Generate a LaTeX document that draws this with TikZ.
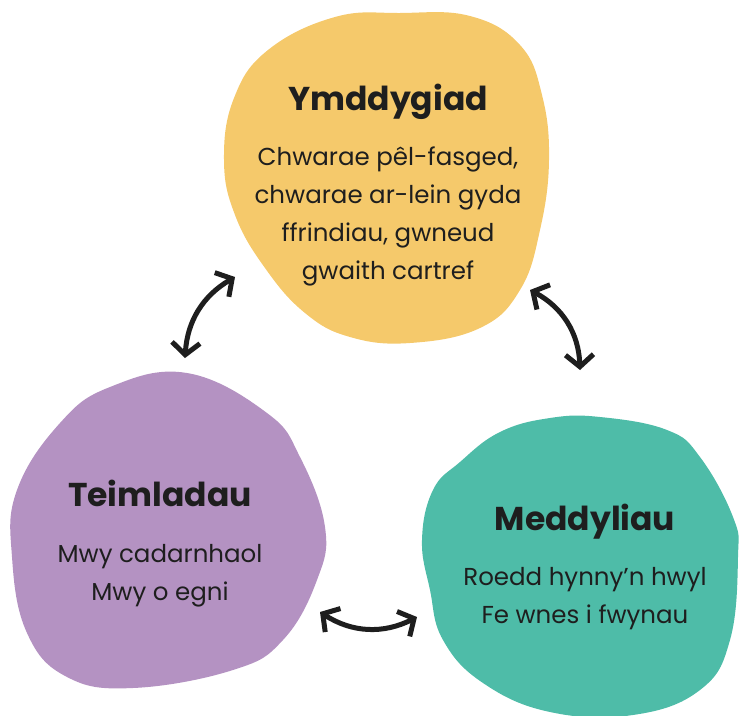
\documentclass[tikz,border=0pt]{standalone}
\usepackage{fontspec}
\setmainfont{Poppins}
\usetikzlibrary{arrows.meta}
\definecolor{blobyellow}{HTML}{F5C96B}
\definecolor{blobpurple}{HTML}{B492C2}
\definecolor{blobteal}{HTML}{4EBCA8}
\definecolor{ink}{HTML}{1E1E1E}
\tikzset{
  blob/.style={draw=none, fill=#1},
  title/.style={anchor=base, text=ink, font=\fontsize{33}{36}\selectfont\bfseries},
  body/.style={anchor=base, text=ink, align=center, font=\fontsize{24.5}{38}\selectfont},
  link/.style={draw=ink, line width=5pt, {Straight Barb[length=12pt,width=28pt]}-{Straight Barb[length=12pt,width=28pt]}}
}
\begin{document}
\begin{tikzpicture}[x=1pt,y=-1pt]
\useasboundingbox (0,0) rectangle (739,715);
% the three coloured blobs
\fill[blob=blobyellow] plot[smooth cycle, tension=0.7] coordinates {
  (400,13) (470,16) (520,45) (542,95) (549,160) (540,230) (520,290) (480,328)
  (410,343) (350,337) (305,313) (265,268) (235,215) (224,160) (234,98) (268,50) (335,17)};
\fill[blob=blobpurple] plot[smooth cycle, tension=0.7] coordinates {
  (187,373) (267,413) (300,457) (325,527) (317,580) (283,640) (233,670)
  (133,688) (67,677) (27,633) (12,557) (17,490) (60,423) (110,387)};
\fill[blob=blobteal] plot[smooth cycle, tension=0.7] coordinates {
  (600,417) (667,430) (700,457) (733,517) (738,557) (730,640) (700,690)
  (633,715) (550,712) (483,683) (443,640) (430,590) (422,540) (433,490)
  (460,462) (500,432) (550,418)};
% texts
\node[title] (t1) at (388,110) {Ymddygiad};
\node[body, anchor=north] (b1) at (388,143) {Chwarae pêl-fasged,\\chwarae ar-lein gyda\\ffrindiau, gwneud\\gwaith cartref};
\node[title] (t2) at (160,506) {Teimladau};
\node[body, anchor=north] (b2) at (160,541) {Mwy cadarnhaol\\Mwy o egni};
\node[title] (t3) at (585,530) {Meddyliau};
\node[body, anchor=north] (b3) at (585,564) {Roedd hynny’n hwyl\\Fe wnes i fwynau};
% connectors between the blobs
\coordinate (a1s) at (235,277); \coordinate (a1e) at (185,358);
\coordinate (a2s) at (530,290); \coordinate (a2e) at (580,370);
\coordinate (a3s) at (320,612); \coordinate (a3e) at (417,617);
\draw[link] (a1s) to[bend right=28] (a1e);
\draw[link] (a2s) to[bend left=30] (a2e);
\draw[link] (a3s) to[bend right=30] (a3e);
\end{tikzpicture}
\end{document}
